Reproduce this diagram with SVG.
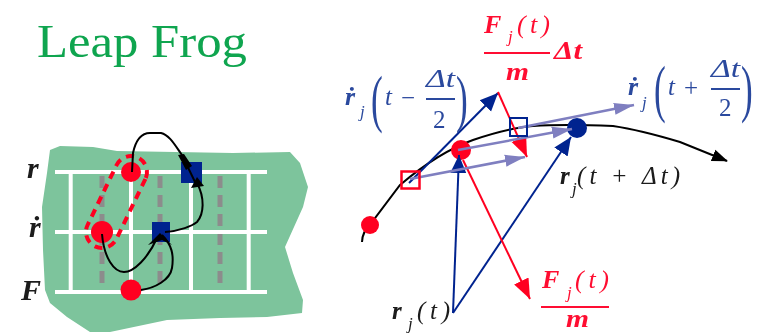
<svg xmlns="http://www.w3.org/2000/svg" width="760" height="333" viewBox="0 0 760 333">
<style>
text{font-family:"Liberation Serif",serif}
.v{font-weight:bold;font-style:italic}
.i{font-style:italic}
.d{font-style:italic;font-weight:bold}
.soft{filter:url(#soft)}
.blk{fill:#1a1a1a}
.red{fill:#ff1030}
.blu{fill:#2c4a9e}
.wh{stroke:#fff;stroke-width:4;fill:none}
.gd{stroke:#8c8c8c;stroke-width:5;stroke-dasharray:12 7;fill:none}
.cv{stroke:#000;stroke-width:2;fill:none}
.peri{stroke:#7f7fc0;stroke-width:2.5;fill:none}
.nb{stroke:#00238f;stroke-width:2;fill:none}
.nr{stroke:#ff0020;stroke-width:2;fill:none}
.frac{stroke-width:2;fill:none}
</style>
<defs>
<filter id="soft" x="-10%" y="-10%" width="120%" height="120%"><feGaussianBlur stdDeviation="0.55"/></filter>
<marker id="ak" markerUnits="userSpaceOnUse" markerWidth="18" markerHeight="14" refX="15" refY="7" orient="auto"><path d="M0 1L16 7L0 13Z" fill="#000"/></marker>
<marker id="ab" markerUnits="userSpaceOnUse" markerWidth="20" markerHeight="18" refX="18" refY="9" orient="auto"><path d="M0 1L18 9L0 17Z" fill="#00238f"/></marker>
<marker id="ar" markerUnits="userSpaceOnUse" markerWidth="22" markerHeight="18" refX="20" refY="9" orient="auto"><path d="M0 1L20 9L0 17Z" fill="#ff0020"/></marker>
<marker id="ap" markerUnits="userSpaceOnUse" markerWidth="22" markerHeight="14" refX="20" refY="7" orient="auto"><path d="M0 1L20 7L0 13Z" fill="#7f7fc0"/></marker>
</defs>

<g id="title"><text x="37" y="57" font-size="46" fill="#0fa54f" textLength="210" lengthAdjust="spacingAndGlyphs">Leap Frog</text></g>

<g id="grid-panel">
<path fill="#7dc49c" d="M50 150L60 146L93 147L117 151L233 153L290 152L300 163L308 187L303 207L285 247L293 273L303 300L302 313L267 317L220 318L167 320L110 332L90 332L67 317L50 303L45 290L43 250L42 207L47 173Z"/>
<path class="gd" d="M102 176V290M160 176V290M220 176V290"/>
<path class="wh" d="M55 172H267M55 232H267M55 292H267M70.700 172V292M131 172V292M191 172V292M248.700 172V292"/>
<text class="v blk soft" x="27" y="178" font-size="30">r</text>
<text class="v blk soft" x="29" y="237" font-size="30">ṙ</text>
<text class="v blk soft" x="21" y="300" font-size="30">F</text>
</g>
<g id="node-r-red"><circle cx="131" cy="172" r="10" fill="#ff0020"/></g>
<g id="node-rdot-red"><circle cx="102" cy="232" r="11" fill="#ff0020"/></g>
<g id="node-f-red"><circle cx="131" cy="290" r="10.500" fill="#ff0020"/></g>
<g id="node-r-blue"><rect x="181" y="162" width="21" height="21" fill="#00238f"/></g>
<g id="node-rdot-blue"><rect x="152" y="222" width="18" height="20" fill="#00238f"/></g>
<g id="leapfrog-links">
<path d="M145.400 179L116.400 239A16 16 0 0 1 87.600 225L116.600 165A16 16 0 0 1 145.400 179Z" fill="none" stroke="#ff0020" stroke-width="4" stroke-dasharray="8 6"/>
<path class="cv" d="M132 172L133 153C136 139 142 133 150 133H161C170 135 176 147 182 155L196 184"/>
<path d="M178 155L184 154L192 166L186 170Z" fill="#000"/>
<path d="M191 188L197 177L204 186Z" fill="#000"/>
<path class="cv" d="M165 232C180 231 192 226 197 222C204 214 205 198 197 183"/>
<path class="cv" d="M102 234C104 258 114 272 124 272C134 272 148 258 157 238"/>
<path class="cv" d="M141 290C155 288 170 280 172 268C174 255 172 245 162 235"/>
<path d="M148 245L160 233L172 245L162 240Z" fill="#000"/>
</g>

<g id="trajectory">
<path class="cv" d="M362 242C362 234 368 226 372 222L400 185C420 168 445 150 473 140C500 131 520 127 533 126C560 124 590 125 613 126C640 130 660 136 680 142L727 161" stroke-width="2.500" marker-end="url(#ak)"/>
</g>
<g id="dot-start"><circle cx="370" cy="225" r="9" fill="#ff0020"/></g>
<g id="dot-mid"><circle cx="461" cy="150" r="10" fill="#ff0020"/></g>
<g id="dot-next"><circle cx="577" cy="128" r="10" fill="#00238f"/></g>
<g id="connectors">
<path class="nb" d="M453 313L459 155" stroke-width="2.500" marker-end="url(#ab)"/>
<path class="nb" d="M453 313L571 137" marker-end="url(#ab)"/>
<path class="nb" d="M409 183L498 93" marker-end="url(#ab)"/>
<path class="nr" d="M498 92L527 157" marker-end="url(#ar)"/>
<path class="nr" d="M463 160L530 299" marker-end="url(#ar)"/>
<path class="peri" d="M410 179L525 157" marker-end="url(#ap)"/>
<path class="peri" d="M458 150L572 129" marker-end="url(#ap)"/>
<path class="peri" d="M518 128L634 105" marker-end="url(#ap)"/>
</g>
<g id="square-red"><rect x="401.500" y="171.500" width="18" height="17" fill="none" stroke="#ff0020" stroke-width="2.500"/></g>
<g id="square-blue"><rect x="510" y="118" width="17" height="18" fill="none" stroke="#00238f" stroke-width="2"/></g>

<g id="label-force-dt" class="soft">
<text class="v red" x="484" y="33" font-size="26">F</text>
<text class="i red" x="508" y="42" font-size="17">j</text>
<text class="i red" x="517" y="33" font-size="26" textLength="33" lengthAdjust="spacing">(t)</text>
<path class="frac" d="M484 53H550" stroke="#ff1030"/>
<text class="d red" x="554" y="59" font-size="26" textLength="28" lengthAdjust="spacingAndGlyphs">Δt</text>
<text class="d red" x="506" y="80" font-size="26" textLength="23" lengthAdjust="spacingAndGlyphs">m</text>
</g>
<g id="label-rdot-minus" class="soft">
<text class="v blu" x="345" y="105" font-size="26">ṙ</text>
<text class="i blu" x="360" y="117" font-size="17">j</text>
<text class="blu" transform="translate(371 120) scale(.55 1)" font-size="64">(</text>
<text class="i blu" x="385" y="105" font-size="25">t</text>
<text class="blu" x="401" y="106" font-size="25">−</text>
<path class="frac" d="M426 99H455" stroke="#2c4a9e"/>
<text class="i blu" x="426" y="87" font-size="25" textLength="29" lengthAdjust="spacingAndGlyphs">Δt</text>
<text class="blu" x="433" y="128" font-size="25">2</text>
<text class="blu" transform="translate(456 120) scale(.55 1)" font-size="64">)</text>
</g>
<g id="label-rdot-plus" class="soft">
<text class="v blu" x="628" y="95" font-size="26">ṙ</text>
<text class="i blu" x="642" y="108" font-size="17">j</text>
<text class="blu" transform="translate(654 110) scale(.55 1)" font-size="64">(</text>
<text class="i blu" x="668" y="95" font-size="25">t</text>
<text class="blu" x="684" y="96" font-size="25">+</text>
<path class="frac" d="M711 89H740" stroke="#2c4a9e"/>
<text class="i blu" x="711" y="77" font-size="25" textLength="29" lengthAdjust="spacingAndGlyphs">Δt</text>
<text class="blu" x="719" y="116" font-size="25">2</text>
<text class="blu" transform="translate(741 110) scale(.55 1)" font-size="64">)</text>
</g>
<g id="label-r-next" class="soft">
<text class="v blk" x="560" y="184" font-size="25">r</text>
<text class="i blk" x="572" y="194" font-size="17">j</text>
<text class="i blk" x="577" y="184" font-size="25" textLength="103" lengthAdjust="spacing">(t + Δt)</text>
</g>
<g id="label-r-now" class="soft">
<text class="v blk" x="392" y="319" font-size="25">r</text>
<text class="i blk" x="408" y="329" font-size="17">j</text>
<text class="i blk" x="417" y="319" font-size="25" textLength="33" lengthAdjust="spacing">(t)</text>
</g>
<g id="label-force" class="soft">
<text class="v red" x="542" y="288" font-size="26">F</text>
<text class="i red" x="567" y="298" font-size="17">j</text>
<text class="i red" x="575" y="288" font-size="26" textLength="34" lengthAdjust="spacing">(t)</text>
<path class="frac" d="M541 307H609" stroke="#ff1030"/>
<text class="d red" x="566" y="327" font-size="25" textLength="23" lengthAdjust="spacingAndGlyphs">m</text>
</g>
</svg>
